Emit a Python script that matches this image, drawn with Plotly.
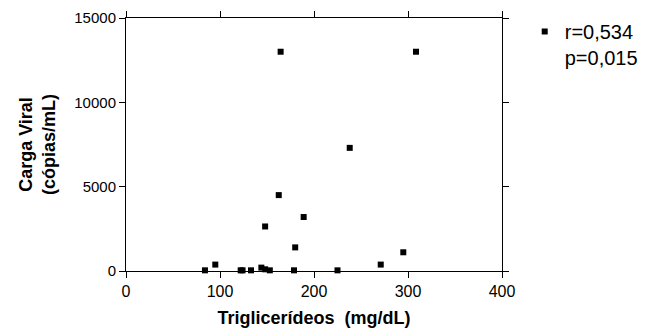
import plotly.graph_objects as go

# Data
trig = [84, 95, 122, 124, 133, 144, 148, 153, 178.7, 225, 271, 295,
        180, 148, 189, 162.5, 238, 164.5, 308.5]
carga = [40, 380, 40, 40, 40, 200, 100, 40, 40, 40, 380, 1110,
         1400, 2640, 3200, 4500, 7300, 13000, 13000]
legend_label = "r=0,534<br>p=0,015"
x_ticks = [0, 100, 200, 300, 400]
y_ticks = [0, 5000, 10000, 15000]
y_tick_text = ["0", "5000", "10000", "15000"]

font_family = "Liberation Sans, Arial, sans-serif"

fig = go.Figure()
fig.add_trace(go.Scatter(
    x=trig, y=carga, mode="markers", name=legend_label,
    marker=dict(symbol="square", size=6, color="black"),
    cliponaxis=False,
))

axis_common = dict(
    showgrid=False, zeroline=False, showline=True, linecolor="black",
    linewidth=1, mirror="ticks", ticks="outside", ticklen=6,
    tickcolor="black", tickwidth=1, automargin=False,
)

fig.update_layout(
    width=647, height=331,
    margin=dict(l=126, r=145, t=18, b=60, autoexpand=False),
    paper_bgcolor="white", plot_bgcolor="white",
    showlegend=True,
    legend=dict(x=0.811, y=0.964, xref="container", yref="container",
                xanchor="left", yanchor="top",
                font=dict(family=font_family, size=20, color="black"),
                valign="top", bgcolor="rgba(0,0,0,0)", itemwidth=30),
    xaxis=dict(range=[0, 400], tickvals=x_ticks,
               tickfont=dict(family=font_family, size=16, color="black"),
               title=dict(text="<b>Triglicerídeos  (mg/dL)</b>",
                          font=dict(family=font_family, size=18, color="black"),
                          standoff=12),
               **axis_common),
    yaxis=dict(range=[0, 15000], tickvals=y_ticks, ticktext=y_tick_text,
               tickfont=dict(family=font_family, size=15, color="black"),
               title=dict(text="<b>Carga Viral<br>(cópias/mL)</b>",
                          font=dict(family=font_family, size=18, color="black"),
                          standoff=13),
               **axis_common),
)

fig.write_html("out.html", config={"displayModeBar": False},
               post_script="document.body.style.margin='0';")
